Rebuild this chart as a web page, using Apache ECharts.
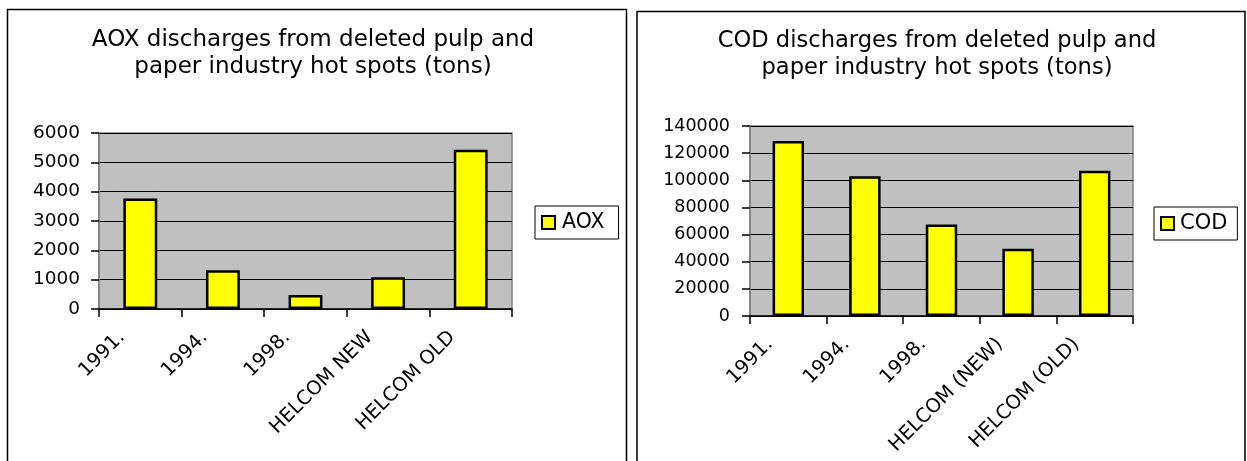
<!DOCTYPE html>
<html>
<head>
<meta charset="utf-8">
<script src="https://cdn.jsdelivr.net/npm/echarts@6/dist/echarts.min.js"></script>
<style>
html,body{margin:0;padding:0;background:#fff;}
#c{width:1247px;height:461px;}
</style>
</head>
<body>
<div id="c"></div>
<script>
// ---- data ----
var aoxCategories = ['1991.', '1994.', '1998.', 'HELCOM NEW', 'HELCOM OLD'];
var aoxValues = [3770, 1320, 480, 1080, 5430];
var aoxTicks = [0, 1000, 2000, 3000, 4000, 5000, 6000];

var codCategories = ['1991.', '1994.', '1998.', 'HELCOM (NEW)', 'HELCOM (OLD)'];
var codValues = [129000, 103000, 67500, 49500, 107000];
var codTicks = [0, 20000, 40000, 60000, 80000, 100000, 120000, 140000];

var titleAOX = 'AOX discharges from deleted pulp and\npaper industry hot spots (tons)';
var titleCOD = 'COD discharges from deleted pulp and\npaper industry hot spots (tons)';

var FONT = 'DejaVu Sans';

function xAxisCfg(gridIndex, cats) {
  return {
    type: 'category', gridIndex: gridIndex, data: cats, boundaryGap: true,
    axisLine: {show: true, lineStyle: {color: '#000', width: 1.5}},
    axisTick: {show: true, length: 8, lineStyle: {color: '#000', width: 1.5}},
    axisLabel: {rotate: 45, interval: 0, margin: 7, padding: [0, 26, 0, 0],
      color: '#000', fontFamily: FONT, fontSize: 19.5},
    splitLine: {show: false}
  };
}
function yAxisCfg(gridIndex, ticks, margin, size) {
  return {
    type: 'value', gridIndex: gridIndex,
    min: ticks[0], max: ticks[ticks.length - 1], interval: ticks[1] - ticks[0],
    axisLine: {show: true, lineStyle: {color: '#808080', width: 1.5}},
    axisTick: {show: true, length: 8, lineStyle: {color: '#000', width: 1.5}},
    axisLabel: {margin: margin, color: '#000', fontFamily: FONT, fontSize: size,
      formatter: function (v) { return String(v); }},
    splitLine: {show: true, lineStyle: {color: '#000', width: 1}}
  };
}
function barSeries(name, idx, values) {
  return {
    name: name, type: 'bar', xAxisIndex: idx, yAxisIndex: idx, data: values,
    barWidth: '41%',
    itemStyle: {color: '#FFFF00', borderColor: '#000', borderWidth: 2.5},
    emphasis: {disabled: true}
  };
}

var chart = echarts.init(document.getElementById('c'), null, {renderer: 'canvas'});
chart.setOption({
  animation: false,
  backgroundColor: '#fff',
  textStyle: {fontFamily: FONT},
  graphic: [
    {type: 'rect', z: 0, shape: {x: 7.5, y: 9.5, width: 619, height: 520},
      style: {fill: 'none', stroke: '#000', lineWidth: 1.5}},
    {type: 'rect', z: 0, shape: {x: 637, y: 11.5, width: 608, height: 520},
      style: {fill: 'none', stroke: '#000', lineWidth: 1.5}}
  ],
  title: [
    {text: titleAOX, left: 313, top: 27, textAlign: 'center', padding: 0,
      textStyle: {fontFamily: FONT, fontSize: 23, fontWeight: 'normal', color: '#000', lineHeight: 27}},
    {text: titleCOD, left: 937, top: 28, textAlign: 'center', padding: 0,
      textStyle: {fontFamily: FONT, fontSize: 22.6, fontWeight: 'normal', color: '#000', lineHeight: 27}}
  ],
  legend: [
    {data: ['AOX'], left: 535, top: 206, orient: 'vertical',
      padding: [6, 14, 6, 6], itemWidth: 13, itemHeight: 13, itemGap: 0,
      borderColor: '#000', borderWidth: 1, icon: 'rect',
      textStyle: {fontFamily: FONT, fontSize: 20.5, color: '#000', padding: [0, 0, 0, 2]}},
    {data: ['COD'], left: 1154, top: 207, orient: 'vertical',
      padding: [6, 10, 6, 6], itemWidth: 13, itemHeight: 13, itemGap: 0,
      borderColor: '#000', borderWidth: 1, icon: 'rect',
      textStyle: {fontFamily: FONT, fontSize: 21, color: '#000', padding: [0, 0, 0, 1]}}
  ],
  grid: [
    {left: 99, top: 133, width: 413, height: 176, show: true,
      backgroundColor: '#C0C0C0', borderColor: '#808080', borderWidth: 1.5},
    {left: 750, top: 126, width: 383, height: 190, show: true,
      backgroundColor: '#C0C0C0', borderColor: '#808080', borderWidth: 1.5}
  ],
  xAxis: [xAxisCfg(0, aoxCategories), xAxisCfg(1, codCategories)],
  yAxis: [yAxisCfg(0, aoxTicks, 19, 18.5), yAxisCfg(1, codTicks, 20, 17.5)],
  series: [barSeries('AOX', 0, aoxValues), barSeries('COD', 1, codValues)]
});
</script>
</body>
</html>
